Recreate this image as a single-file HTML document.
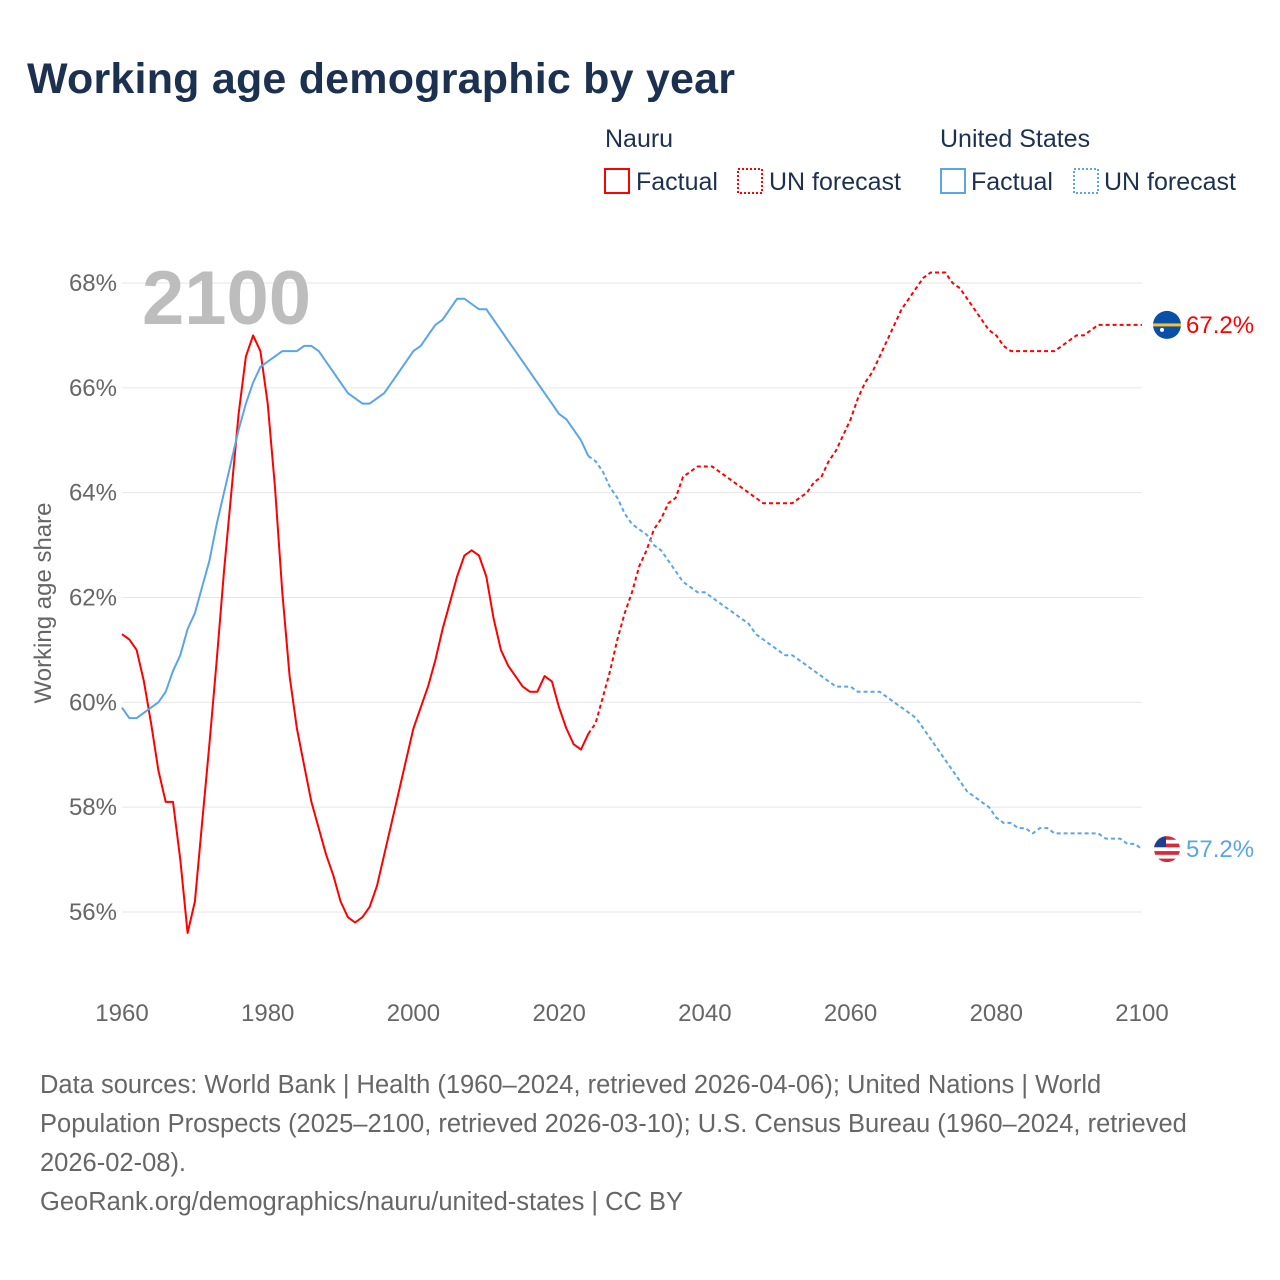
<!DOCTYPE html>
<html><head><meta charset="utf-8">
<style>
body{margin:0;background:#fff;font-family:"Liberation Sans",sans-serif;}
#wrap{position:relative;width:1280px;height:1280px;overflow:hidden;}
</style></head>
<body>
<div id="wrap">
<svg id="chart" width="1280" height="1280" xmlns="http://www.w3.org/2000/svg">
<defs><clipPath id="usclip"><circle cx="1167" cy="0" r="13"/></clipPath></defs>
<text x="27" y="93" font-size="43" font-weight="bold" fill="#1c3150" textLength="708">Working age demographic by year</text>
<g font-size="25" fill="#1c3150">
<text x="605" y="147">Nauru</text>
<rect x="605" y="169" width="24" height="24" fill="none" stroke="#ff0000" stroke-width="2"/>
<text x="636" y="190">Factual</text>
<rect x="738" y="169" width="24" height="24" fill="none" stroke="#ff0000" stroke-width="2" stroke-dasharray="2 2"/>
<text x="769" y="190">UN forecast</text>
<text x="940" y="147">United States</text>
<rect x="941" y="169" width="24" height="24" fill="none" stroke="#5aa5e8" stroke-width="2"/>
<text x="971" y="190">Factual</text>
<rect x="1074" y="169" width="24" height="24" fill="none" stroke="#5aa5e8" stroke-width="2" stroke-dasharray="2 2"/>
<text x="1104" y="190">UN forecast</text>
</g>
<g id="grid"></g>
<text x="142" y="324" font-size="76" font-weight="bold" fill="#bdbdbd">2100</text>
<g id="lines"></g>
<text transform="translate(51,603) rotate(-90)" text-anchor="middle" font-size="24" fill="#666">Working age share</text>
<g font-size="25.5" fill="#666">
<text x="40" y="1093">Data sources: World Bank | Health (1960–2024, retrieved 2026-04-06); United Nations | World</text>
<text x="40" y="1132">Population Prospects (2025–2100, retrieved 2026-03-10); U.S. Census Bureau (1960–2024, retrieved</text>
<text x="40" y="1171">2026-02-08).</text>
<text x="40" y="1210">GeoRank.org/demographics/nauru/united-states | CC BY</text>
</g>
</svg>
</div>
<script>
const startYear = 1960;
const nauruFactual = [61.3,61.2,61.0,60.4,59.6,58.7,58.1,58.1,57.0,55.6,56.2,57.7,59.2,60.8,62.5,64.0,65.5,66.6,67.0,66.7,65.7,64.1,62.1,60.5,59.5,58.8,58.1,57.6,57.1,56.7,56.2,55.9,55.8,55.9,56.1,56.5,57.1,57.7,58.3,58.9,59.5,59.9,60.3,60.8,61.4,61.9,62.4,62.8,62.9,62.8,62.4,61.6,61.0,60.7,60.5,60.3,60.2,60.2,60.5,60.4,59.9,59.5,59.2,59.1,59.4];
const nauruForecast = [59.6,60.1,60.6,61.2,61.7,62.1,62.6,62.9,63.3,63.5,63.8,63.9,64.3,64.4,64.5,64.5,64.5,64.4,64.3,64.2,64.1,64.0,63.9,63.8,63.8,63.8,63.8,63.8,63.9,64.0,64.2,64.3,64.6,64.8,65.1,65.4,65.8,66.1,66.3,66.6,66.9,67.2,67.5,67.7,67.9,68.1,68.2,68.2,68.2,68.0,67.9,67.7,67.5,67.3,67.1,67.0,66.8,66.7,66.7,66.7,66.7,66.7,66.7,66.7,66.8,66.9,67.0,67.0,67.1,67.2,67.2,67.2,67.2,67.2,67.2,67.2];
const usFactual = [59.9,59.7,59.7,59.8,59.9,60.0,60.2,60.6,60.9,61.4,61.7,62.2,62.7,63.4,64.0,64.6,65.2,65.7,66.1,66.4,66.5,66.6,66.7,66.7,66.7,66.8,66.8,66.7,66.5,66.3,66.1,65.9,65.8,65.7,65.7,65.8,65.9,66.1,66.3,66.5,66.7,66.8,67.0,67.2,67.3,67.5,67.7,67.7,67.6,67.5,67.5,67.3,67.1,66.9,66.7,66.5,66.3,66.1,65.9,65.7,65.5,65.4,65.2,65.0,64.7];
const usForecast = [64.6,64.4,64.1,63.9,63.6,63.4,63.3,63.2,63.0,62.9,62.7,62.5,62.3,62.2,62.1,62.1,62.0,61.9,61.8,61.7,61.6,61.5,61.3,61.2,61.1,61.0,60.9,60.9,60.8,60.7,60.6,60.5,60.4,60.3,60.3,60.3,60.2,60.2,60.2,60.2,60.1,60.0,59.9,59.8,59.7,59.5,59.3,59.1,58.9,58.7,58.5,58.3,58.2,58.1,58.0,57.8,57.7,57.7,57.6,57.6,57.5,57.6,57.6,57.5,57.5,57.5,57.5,57.5,57.5,57.5,57.4,57.4,57.4,57.3,57.3,57.2];
const yTicks = [56,58,60,62,64,66,68];
const xTicks = [1960,1980,2000,2020,2040,2060,2080,2100];

const NS="http://www.w3.org/2000/svg";
const X0=122,X1=1142,Y0=283,Y1=912;
const xs=y=>X0+(y-1960)/140*(X1-X0);
const ys=v=>Y0+(68-v)/12*(Y1-Y0);
const grid=document.getElementById('grid'), lines=document.getElementById('lines');
function mk(tag,attrs,parent){const e=document.createElementNS(NS,tag);for(const k in attrs)e.setAttribute(k,attrs[k]);parent.appendChild(e);return e;}
yTicks.forEach(t=>{
  const l=mk('line',{x1:X0,x2:X1,y1:ys(t),y2:ys(t),stroke:'#e6e6e6','stroke-width':1},grid);
  
  
  const tx=mk('text',{x:117,y:ys(t)+8,'text-anchor':'end','font-size':24,fill:'#666'},grid);
  tx.textContent=t+'%';
  
  
});
xTicks.forEach(t=>{
  const tx=mk('text',{x:xs(t),y:1021,'text-anchor':'middle','font-size':24,fill:'#666'},grid);
  tx.textContent=t;
  
  
});
function path(vals,start,color,dash,name){
  const d=vals.map((v,i)=>(i?'L':'M')+xs(start+i).toFixed(1)+','+ys(v).toFixed(1)).join('');
  const p=mk('path',{d:d,fill:'none',stroke:color,'stroke-width':2,'stroke-linejoin':'round'},lines);
  if(dash)p.setAttribute('stroke-dasharray','4 3');
  
  
}
const fStart=startYear+nauruFactual.length;
path([nauruFactual[nauruFactual.length-1]].concat(nauruForecast),fStart-1,'#ff0000',true,'nauru-forecast-line');
path(nauruFactual,startYear,'#ff0000',false,'nauru-factual-line');
const uStart=startYear+usFactual.length;
path([usFactual[usFactual.length-1]].concat(usForecast),uStart-1,'#5aa5e8',true,'us-forecast-line');
path(usFactual,startYear,'#5aa5e8',false,'us-factual-line');
const nEnd=nauruForecast[nauruForecast.length-1], uEnd=usForecast[usForecast.length-1];
const g1=mk('g',{},lines);


const cx=1167, ny=ys(nEnd);
mk('circle',{cx:cx,cy:ny,r:14,fill:'#0a4fa8'},g1);
mk('rect',{x:cx-14,y:ny-1.5,width:28,height:3,fill:'#f7c325'},g1);
mk('circle',{cx:cx-5,cy:ny+5,r:2,fill:'#fff'},g1);
const nl=mk('text',{x:1186,y:ny+8,'font-size':24,fill:'#ff0000'},lines);
nl.textContent=nEnd.toFixed(1)+'%';


const uy=ys(uEnd);
document.querySelector('#usclip circle').setAttribute('cy',uy);
const g2=mk('g',{'clip-path':'url(#usclip)'},lines);


mk('rect',{x:cx-14,y:uy-14,width:28,height:28,fill:'#fff'},g2);
for(let i=0;i<4;i++){mk('rect',{x:cx-14,y:uy-13+i*7.5,width:28,height:3.7,fill:'#d8283a'},g2);}
mk('rect',{x:cx-14,y:uy-14,width:13,height:12,fill:'#1e3f8c'},g2);
const ul=mk('text',{x:1186,y:uy+8,'font-size':24,fill:'#5aa5e8'},lines);
ul.textContent=uEnd.toFixed(1)+'%';


</script>
</body></html>
